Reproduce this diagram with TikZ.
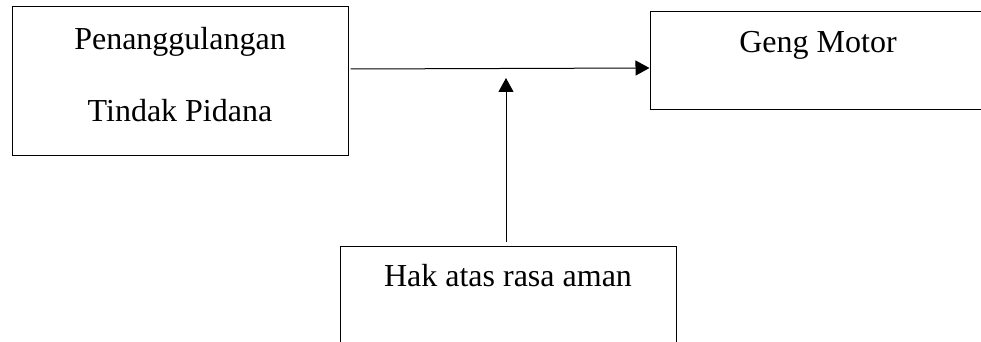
\documentclass[tikz,border=0pt]{standalone}
\usepackage{fontspec}
\setmainfont{Liberation Serif}
\usetikzlibrary{arrows.meta,calc}
\begin{document}
\begin{tikzpicture}[x=0.5pt,y=-0.5pt,
  box/.style={draw,line width=0.5pt,rectangle,inner sep=0pt},
  txt/.style={font=\fontsize{16}{19}\selectfont,inner sep=0pt,anchor=base},
  arr/.style={line width=0.5pt,-{Triangle[length=7pt,width=7.5pt]}}]
\useasboundingbox (0,0) rectangle (981,342);
\clip (0,0) rectangle (981,342);
\fill[white] (0,0) rectangle (981,342);
\node[box,minimum width=168pt,minimum height=74.5pt] (L) at (180,81.5) {};
\node[box,minimum width=172.5pt,minimum height=49pt] (R) at (822.5,61) {};
\node[box,minimum width=168pt,minimum height=56.5pt] (B) at (508,303.5) {};
\node[txt] (t1) at (180,49.5) {Penanggulangan};
\node[txt] (t2) at (180,122) {Tindak Pidana};
\node[txt] (t3) at (818,53) {Geng Motor};
\node[txt] (t4) at (508,286.5) {Hak atas rasa aman};
\coordinate (tip) at (506,78);
\draw[arr] ($(L.east)+(2,-12.5)$) -- ($(R.west)+(0,7)$);
\draw[arr] ($(B.north)+(-2,-4)$) -- (tip);
\end{tikzpicture}
\end{document}
